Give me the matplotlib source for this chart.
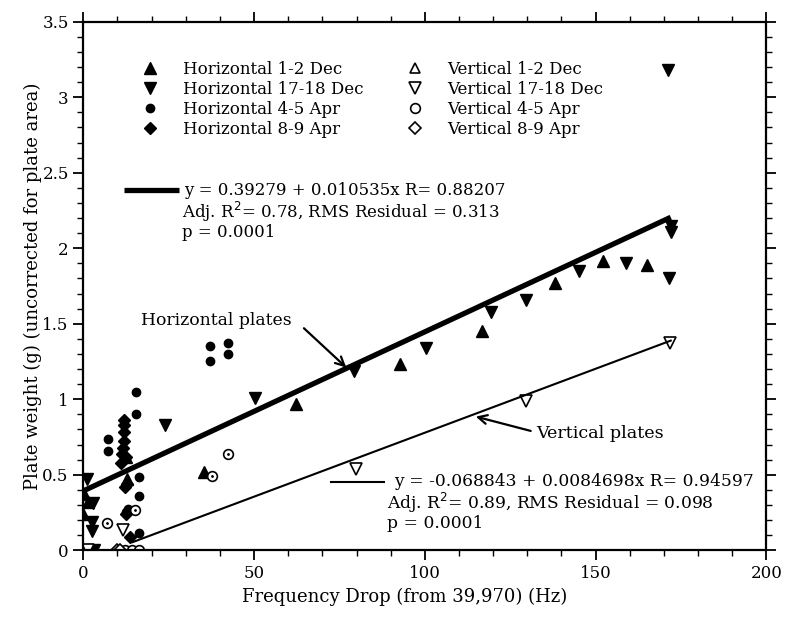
import numpy as np
import matplotlib.pyplot as plt
from matplotlib.ticker import MultipleLocator, FormatStrFormatter

plt.rcParams['font.family'] = ['DejaVu Serif']
plt.rcParams['font.size'] = 12

# data (Hz drop, grams)
h_dec1_x = [0.0, 0.2, 1.5, 12.8, 12.5, 35.4, 62.4, 92.6, 116.8, 138.2, 152.2, 165.1]
h_dec1_y = [0.24, 0.375, 0.32, 0.47, 0.62, 0.52, 0.97, 1.23, 1.455, 1.77, 1.915, 1.89]

h_dec17_x = [1.1, 2.8, 2.5, 2.5, 3.0, 24.0, 50.2, 79.4, 100.4, 119.4, 129.5, 145.2, 159.0, 171.6, 172.0, 172.0, 171.3]
h_dec17_y = [0.47, 0.31, 0.19, 0.13, 0.0, 0.83, 1.005, 1.19, 1.34, 1.575, 1.66, 1.85, 1.90, 1.80, 2.15, 2.11, 3.18]

h_apr4_x = [7.1, 7.1, 15.5, 15.5, 16.4, 16.4, 16.4, 12.5, 13.0, 37.1, 37.2, 42.4, 42.4]
h_apr4_y = [0.735, 0.66, 1.05, 0.90, 0.486, 0.36, 0.115, 0.25, 0.27, 1.35, 1.25, 1.37, 1.30]

h_apr8_x = [11.8, 11.8, 11.8, 11.8, 11.5, 11.2, 11.0, 12.5, 12.3, 12.8, 13.8, 12.6]
h_apr8_y = [0.865, 0.83, 0.78, 0.72, 0.68, 0.64, 0.58, 0.62, 0.42, 0.44, 0.09, 0.24]

v_dec1_x = [1.0]
v_dec1_y = [0.0]

v_dec17_x = [1.5, 11.6, 79.9, 129.7, 171.9]
v_dec17_y = [0.0, 0.137, 0.535, 0.99, 1.37]

v_apr4_x = [6.9, 15.2, 37.7, 42.4, 12.3, 14.3, 16.2]
v_apr4_y = [0.18, 0.265, 0.49, 0.64, 0.0, 0.0, 0.0]

v_apr8_x = [9.9, 10.8]
v_apr8_y = [0.0, 0.0]

# regression fits given on the chart
h_fit = (0.39279, 0.010535)
v_fit = (-0.068843, 0.0084698)

fig = plt.figure(figsize=(7.86, 6.21), dpi=100)
ax = fig.add_axes([0.106, 0.114, 0.869, 0.851])

ax.plot(h_dec1_x, h_dec1_y, '^', color='k', ms=8, ls='none', label='Horizontal 1-2 Dec')
ax.plot(h_dec17_x, h_dec17_y, 'v', color='k', ms=8, ls='none', label='Horizontal 17-18 Dec')
ax.plot(h_apr4_x, h_apr4_y, 'o', color='k', ms=6, ls='none', label='Horizontal 4-5 Apr')
ax.plot(h_apr8_x, h_apr8_y, 'D', color='k', ms=6, ls='none', label='Horizontal 8-9 Apr')
ax.plot(v_dec1_x, v_dec1_y, '^', mfc='white', mec='k', mew=1.2, ms=7, ls='none', label='Vertical 1-2 Dec')
ax.plot(v_dec17_x, v_dec17_y, 'v', mfc='white', mec='k', mew=1.2, ms=8, ls='none', label='Vertical 17-18 Dec')
ax.plot(v_apr4_x, v_apr4_y, 'o', mfc='white', mec='k', mew=1.2, ms=7, ls='none', label='Vertical 4-5 Apr')
ax.plot(v_apr8_x, v_apr8_y, 'D', mfc='white', mec='k', mew=1.2, ms=6, ls='none', label='Vertical 8-9 Apr')
# the scanned open circles show a dot in the middle
ax.plot(v_apr4_x, v_apr4_y, '.', color='k', ms=2, ls='none')

xh = np.array([0, 172.0])
ax.plot(xh, h_fit[0] + h_fit[1] * xh, color='k', lw=3.8, solid_capstyle='butt')
xv = np.array([14.5, 172.0])
ax.plot(xv, v_fit[0] + v_fit[1] * xv, color='k', lw=1.5)

leg = ax.legend(ncol=2, loc='upper left', bbox_to_anchor=(0.086, 0.926), frameon=False,
                handlelength=1.0, handletextpad=1.45, labelspacing=0.18, columnspacing=2.6,
                borderaxespad=0, borderpad=0, fontsize=12)

# fit equation labels
ax.plot([12, 28], [2.385, 2.385], color='k', lw=3.8, solid_capstyle='butt')
ax.text(29.5, 2.385, 'y = 0.39279 + 0.010535x R= 0.88207', va='center', fontsize=12)
ax.text(29, 2.24, 'Adj. R$^2$= 0.78, RMS Residual = 0.313', va='center', fontsize=12)
ax.text(29, 2.105, 'p = 0.0001', va='center', fontsize=12)

ax.plot([72.5, 88], [0.455, 0.455], color='k', lw=1.5)
ax.text(91, 0.455, 'y = -0.068843 + 0.0084698x R= 0.94597', va='center', fontsize=12.3)
ax.text(89, 0.31, 'Adj. R$^2$= 0.89, RMS Residual = 0.098', va='center', fontsize=12.3)
ax.text(89, 0.18, 'p = 0.0001', va='center', fontsize=12.3)

ax.text(17, 1.52, 'Horizontal plates', va='center', fontsize=12.4)
ax.annotate('', xy=(77, 1.21), xytext=(64.6, 1.47),
            arrowprops=dict(arrowstyle='->', color='k', lw=1.6, mutation_scale=16,
                            shrinkA=0, shrinkB=0))
ax.text(132.7, 0.77, 'Vertical plates', va='center', fontsize=12.6)
ax.annotate('', xy=(114.9, 0.885), xytext=(131, 0.79),
            arrowprops=dict(arrowstyle='->', color='k', lw=1.6, mutation_scale=16,
                            shrinkA=0, shrinkB=0))

ax.set_xlim(0, 200)
ax.set_ylim(0, 3.5)
ax.xaxis.set_major_locator(MultipleLocator(50))
ax.xaxis.set_minor_locator(MultipleLocator(10))
ax.yaxis.set_major_locator(MultipleLocator(0.5))
ax.yaxis.set_minor_locator(MultipleLocator(0.1))
ax.xaxis.set_major_formatter(FormatStrFormatter('%g'))
ax.yaxis.set_major_formatter(FormatStrFormatter('%g'))
ax.tick_params(which='both', direction='out', top=True, right=True, labeltop=False, labelright=False)
ax.tick_params(which='major', length=7, width=1.3, labelsize=12)
ax.tick_params(which='minor', length=4, width=1.0)
for s in ax.spines.values():
    s.set_linewidth(1.6)

ax.set_xlabel('Frequency Drop (from 39,970) (Hz)', fontsize=13, x=0.47)
ax.set_ylabel('Plate weight (g) (uncorrected for plate area)', fontsize=13, labelpad=0)

fig.savefig('out.png', dpi=100)
